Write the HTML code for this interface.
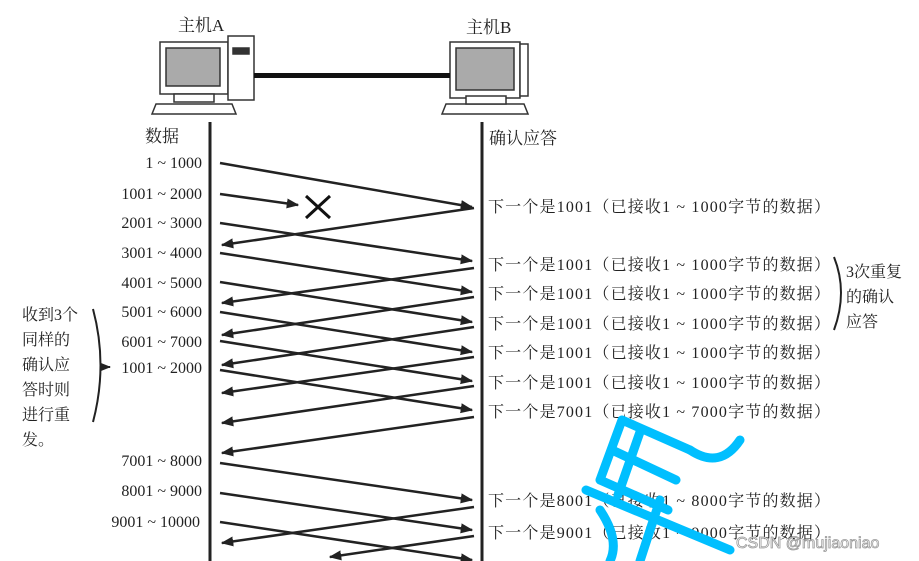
<!DOCTYPE html><html><head><meta charset="utf-8"><style>body{margin:0;background:#fff}svg{display:block}</style></head><body>
<svg width="919" height="561" viewBox="0 0 919 561" xmlns="http://www.w3.org/2000/svg" font-family="'Liberation Serif','Noto Serif CJK SC',serif" fill="#222">
<defs><marker id="a" viewBox="0 0 10 10" refX="9" refY="5" markerWidth="5" markerHeight="5" orient="auto-start-reverse"><path d="M0,1 L10,5 L0,9 z" fill="#222"/></marker></defs>
<!-- computers -->
<g stroke="#333" stroke-width="1.5" fill="#fff">
<rect x="160" y="42" width="68" height="52"/><rect x="166" y="48" width="54" height="38" fill="#aaa"/>
<rect x="228" y="36" width="26" height="64"/><rect x="233" y="48" width="16" height="6" fill="#333"/>
<path d="M156,104 L232,104 L236,114 L152,114 Z"/><rect x="174" y="94" width="40" height="8"/>
<rect x="450" y="42" width="70" height="56"/><rect x="456" y="48" width="58" height="42" fill="#aaa"/>
<rect x="520" y="44" width="8" height="52"/>
<path d="M446,104 L524,104 L528,114 L442,114 Z"/><rect x="466" y="96" width="40" height="8"/>
</g>
<rect x="254" y="73" width="196" height="5" fill="#111"/>
<text x="178" y="31" font-size="17">主机A</text><text x="466" y="33" font-size="17">主机B</text>
<rect x="208.5" y="122" width="3" height="439" fill="#222"/><rect x="480.5" y="122" width="3" height="439" fill="#222"/>
<text x="145" y="142" font-size="17">数据</text><text x="489" y="144" font-size="17">确认应答</text>
<g font-size="16" text-anchor="end">
<text x="202" y="168">1 ~ 1000</text><text x="202" y="199">1001 ~ 2000</text><text x="202" y="228">2001 ~ 3000</text>
<text x="202" y="258">3001 ~ 4000</text><text x="202" y="288">4001 ~ 5000</text><text x="202" y="317">5001 ~ 6000</text>
<text x="202" y="347">6001 ~ 7000</text><text x="202" y="373">1001 ~ 2000</text><text x="202" y="466">7001 ~ 8000</text>
<text x="202" y="496">8001 ~ 9000</text><text x="200" y="527">9001 ~ 10000</text></g>
<g stroke="#222" stroke-width="2.5" fill="none" marker-end="url(#a)">
<line x1="220" y1="163" x2="472" y2="207"/><line x1="220" y1="194" x2="298" y2="205"/>
<line x1="220" y1="223" x2="472" y2="261"/><line x1="220" y1="253" x2="472" y2="292"/>
<line x1="220" y1="282" x2="472" y2="322"/><line x1="220" y1="312" x2="472" y2="352"/>
<line x1="220" y1="341" x2="472" y2="381"/><line x1="220" y1="370" x2="472" y2="410"/>
<line x1="220" y1="463" x2="472" y2="500"/><line x1="220" y1="493" x2="472" y2="530"/><line x1="220" y1="522" x2="472" y2="560"/>
<line x1="474" y1="208" x2="222" y2="245"/><line x1="474" y1="268" x2="222" y2="303"/>
<line x1="474" y1="297" x2="222" y2="335"/><line x1="474" y1="327" x2="222" y2="365"/>
<line x1="474" y1="357" x2="222" y2="393"/><line x1="474" y1="386" x2="222" y2="423"/>
<line x1="474" y1="417" x2="222" y2="453"/><line x1="474" y1="507" x2="222" y2="543"/><line x1="474" y1="536" x2="330" y2="557"/>
</g>
<path d="M306,196 L330,218 M330,196 L306,218" stroke="#111" stroke-width="3"/>
<g font-size="16">
<text x="488" y="212" textLength="342">下一个是1001（已接收1 ~ 1000字节的数据）</text>
<text x="488" y="270" textLength="342">下一个是1001（已接收1 ~ 1000字节的数据）</text>
<text x="488" y="299" textLength="342">下一个是1001（已接收1 ~ 1000字节的数据）</text>
<text x="488" y="329" textLength="342">下一个是1001（已接收1 ~ 1000字节的数据）</text>
<text x="488" y="358" textLength="342">下一个是1001（已接收1 ~ 1000字节的数据）</text>
<text x="488" y="388" textLength="342">下一个是1001（已接收1 ~ 1000字节的数据）</text>
<text x="488" y="417" textLength="342">下一个是7001（已接收1 ~ 7000字节的数据）</text>
<text x="488" y="506" textLength="342">下一个是8001（已接收1 ~ 8000字节的数据）</text>
<text x="488" y="538" textLength="342">下一个是9001（已接收1 ~ 9000字节的数据）</text>
<text x="846" y="277">3次重复</text><text x="846" y="302">的确认</text><text x="846" y="327">应答</text>
<text x="22" y="320">收到3个</text><text x="22" y="345">同样的</text><text x="22" y="370">确认应</text>
<text x="22" y="395">答时则</text><text x="22" y="420">进行重</text><text x="22" y="445">发。</text></g>
<path d="M834,257 Q848,292 834,330" stroke="#222" stroke-width="2" fill="none"/>
<path d="M93,309 Q108,365 93,422" stroke="#222" stroke-width="2" fill="none"/>
<line x1="100" y1="367" x2="110" y2="367" stroke="#222" stroke-width="2" marker-end="url(#a)"/>
<g stroke="#00bfff" stroke-width="9" fill="none" stroke-linecap="round">
<path d="M622,420 L600,480 M622,420 L690,450 M600,480 L668,510 M612,450 L676,480 M640,432 L618,495 M586,490 L730,550"/>
<path d="M690,450 Q720,470 740,440 M660,500 Q650,530 640,561 M600,510 Q620,540 610,561"/></g>
<text x="736" y="548" font-family="'Liberation Sans',sans-serif" font-size="16" fill="#fff" stroke="#999" stroke-width="0.8">CSDN @mujiaoniao</text>
</svg></body></html>
